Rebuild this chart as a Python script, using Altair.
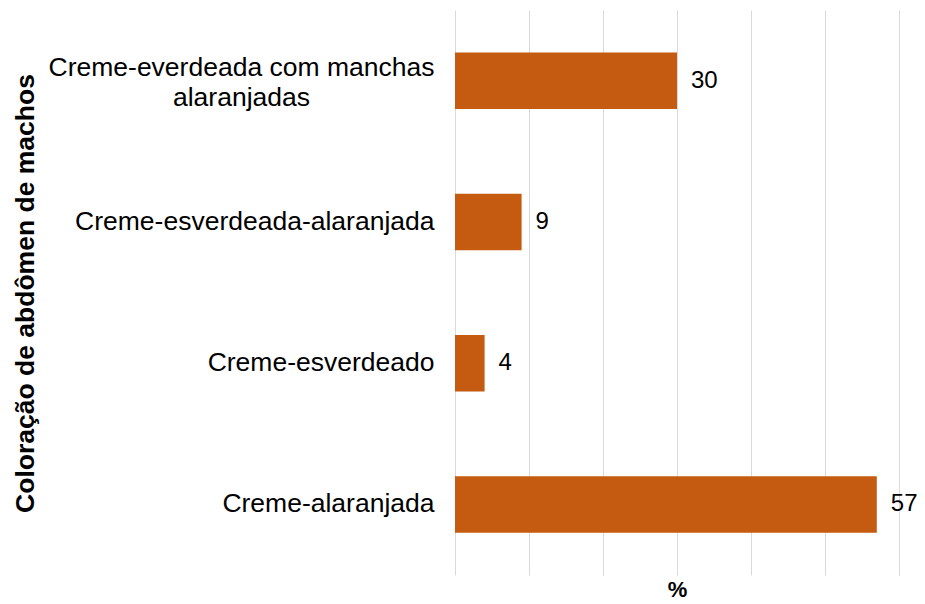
import altair as alt
import pandas as pd

categories = [
    "Creme-everdeada com manchas alaranjadas",
    "Creme-esverdeada-alaranjada",
    "Creme-esverdeado",
    "Creme-alaranjada",
]
values = [30, 9, 4, 57]
grid_ticks = [0, 10, 20, 30, 40, 50, 60]

df = pd.DataFrame({"cat": categories, "val": values})

FONT = "Liberation Sans"
LONG = categories[0]

y_enc = alt.Y(
    "cat:N",
    sort=categories,
    scale=alt.Scale(paddingInner=0.6, paddingOuter=0.3),
    axis=alt.Axis(
        title="Coloração de abdômen de machos",
        titleFont=FONT,
        titleFontSize=26.5,
        titleFontWeight="bold",
        titleColor="#000000",
        titleX=-430,
        titleY=283,
        titleAlign="center",
        titleBaseline="middle",
        titleAngle=270,
        labelFont=FONT,
        labelFontSize=26.5,
        labelColor="#000000",
        labelLineHeight=30,
        labelLimit=600,
        labelExpr=f"datum.label == '{LONG}' ? ['Creme-everdeada com manchas', 'alaranjadas'] : datum.label",
        labelAlign={"condition": {"test": f"datum.value == '{LONG}'", "value": "center"}, "value": "right"},
        labelPadding={"condition": {"test": f"datum.value == '{LONG}'", "value": 214}, "value": 21},
        labelOffset={"condition": {"test": f"datum.value == '{LONG}'", "value": -13}, "value": 0},
        ticks=False,
        tickSize=0,
        domain=False,
        grid=False,
    ),
)

x_enc = alt.X(
    "val:Q",
    scale=alt.Scale(domain=[0, 60], nice=False),
    axis=alt.Axis(
        title="%",
        titleFont=FONT,
        titleFontSize=22,
        titleFontWeight="bold",
        titleColor="#000000",
        titlePadding=4,
        values=grid_ticks,
        labels=False,
        ticks=False,
        tickSize=0,
        domain=False,
        grid=True,
        gridColor="#d9d9d9",
        gridWidth=1,
    ),
)

bars = alt.Chart(df).mark_bar(color="#C55A11").encode(x=x_enc, y=y_enc)
text = alt.Chart(df).mark_text(
    align="left", baseline="middle", dx=14, font=FONT, fontSize=24, color="#000000"
).encode(x="val:Q", y=alt.Y("cat:N", sort=categories), text="val:Q")

chart = (
    alt.layer(bars, text)
    .properties(
        width=444,
        height=565,
        autosize=alt.AutoSizeParams(type="none"),
        padding={"left": 447, "top": 2, "right": 18, "bottom": 25},
    )
    .configure_view(stroke=None)
)

chart.save("out.html", embed_options={"renderer": "svg", "actions": False})
